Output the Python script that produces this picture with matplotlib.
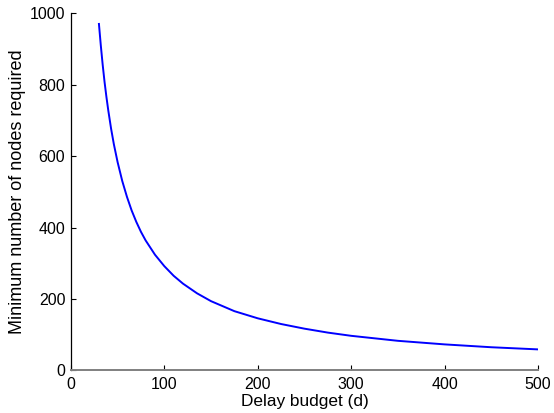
import matplotlib
matplotlib.use("Agg")
import matplotlib.pyplot as plt

plt.rcParams['font.family'] = ['Liberation Sans', 'DejaVu Sans']

delay = [30, 32, 34, 36, 38, 40, 43, 46, 50, 55, 60, 65, 70, 75, 80, 90,
         100, 110, 120, 135, 150, 175, 200, 225, 250, 275, 300, 350, 400, 450, 500]
nodes = [970, 910, 856, 808, 766, 728, 677, 633, 583, 530, 486, 448, 416, 388,
         364, 324, 292, 265, 243, 216, 194, 166, 146, 130, 117, 106, 97, 83, 73, 65, 59]

xticks = [0, 100, 200, 300, 400, 500]
yticks = [0, 200, 400, 600, 800, 1000]

fig = plt.figure(figsize=(5.54, 4.13), dpi=100)
ax = fig.add_axes([0.128, 0.103, 0.843, 0.865])
ax.plot(delay, nodes, color='#0000ff', lw=1.4)
ax.set_xlim(0, 500)
ax.set_ylim(0, 1000)
ax.set_xticks(xticks)
ax.set_yticks(yticks)
ax.tick_params(direction='in', length=3.5, labelsize=11.5, width=0.8)
ax.tick_params(axis='x', pad=5)
ax.tick_params(axis='y', pad=4)
ax.spines['top'].set_visible(False)
ax.spines['right'].set_visible(False)
ax.spines['left'].set_linewidth(0.9)
ax.spines['bottom'].set_color('#808080')
ax.spines['bottom'].set_linewidth(1.4)
ax.set_xlabel('Delay budget (d)', fontsize=12.4, labelpad=1)
ax.set_ylabel('Minimum number of nodes required', fontsize=13, labelpad=3)
fig.savefig('out.png', dpi=100)
